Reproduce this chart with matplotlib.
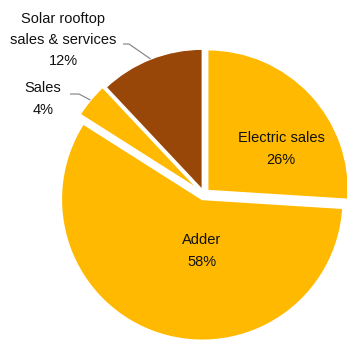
import matplotlib
matplotlib.use("Agg")
import matplotlib.pyplot as plt
import numpy as np

# slices, clockwise from 12 o'clock
labels = ["Electric sales", "Adder", "Sales", "Solar rooftop\nsales & services"]
shares = [26, 58, 4, 12]
colors = ["#FFB900", "#FFB900", "#FFB900", "#994709"]
explode = [0.035, 0.04, 0.045, 0.03]

plt.rcParams["font.family"] = ["Liberation Sans", "DejaVu Sans"]

fig = plt.figure(figsize=(3.47, 3.40), dpi=100)
ax = fig.add_axes([0, 0, 1, 1])

wedges, _ = ax.pie(shares, colors=colors, explode=explode, startangle=90,
                   counterclock=False, radius=1.0,
                   wedgeprops=dict(edgecolor="white", linewidth=1.2))

# pixel -> data units (radius = 141 px, centre at 204,194 px)
R = 141.0
cx, cy = 204.0, 194.0
ax.set_xlim(-cx / R, (347 - cx) / R)
ax.set_ylim(-(340 - cy) / R, cy / R)
ax.set_aspect("equal", adjustable="box")
ax.axis("off")


def px(x, y):
    return ((x - cx) / R, (cy - y) / R)


txt = dict(ha="center", va="center", fontsize=10.5, color="#111111", linespacing=1.65)

# inside labels
ax.text(*px(281, 149), f"{labels[0]}\n{shares[0]}%", **txt)
ax.text(*px(202, 251), f"{labels[1]}\n{shares[1]}%", **txt)
# outside labels
ax.text(*px(43, 99), f"{labels[2]}\n{shares[2]}%", **txt)
ax.text(*px(63, 40), f"{labels[3]}\n{shares[3]}%", **txt)


def edge_point(w):
    mid = np.deg2rad((w.theta1 + w.theta2) / 2)
    return (w.center[0] + w.r * np.cos(mid), w.center[1] + w.r * np.sin(mid))


# leader lines: short horizontal then to the slice edge
for w, start, knee in [(wedges[3], (123, 44), (129, 44)),
                       (wedges[2], (70, 94), (79, 94))]:
    p0, p1 = px(*start), px(*knee)
    p2 = edge_point(w)
    ax.plot([p0[0], p1[0], p2[0]], [p0[1], p1[1], p2[1]],
            color="#7f7f7f", linewidth=0.8, solid_capstyle="butt")

fig.savefig("out.png", dpi=100)
